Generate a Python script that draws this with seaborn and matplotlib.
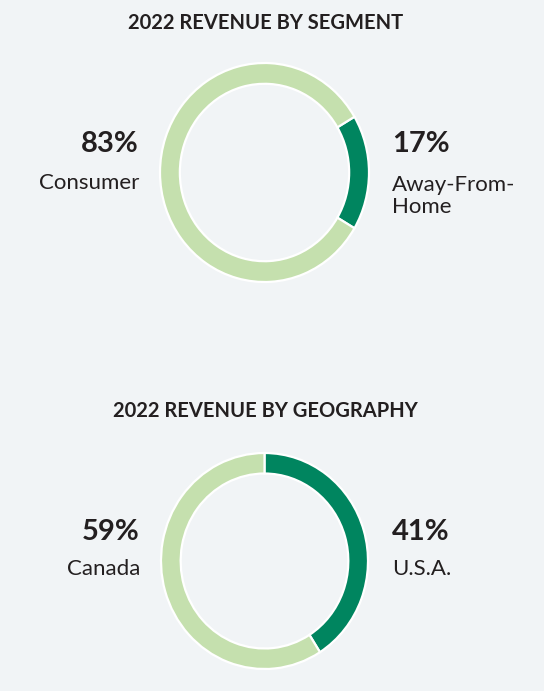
import numpy as np
import seaborn as sns
import matplotlib.pyplot as plt

# data
seg_labels = ['Away-From-\nHome', 'Consumer']
seg_values = [17, 83]
geo_labels = ['U.S.A.', 'Canada']
geo_values = [41, 59]
titles = ['2022 REVENUE BY SEGMENT', '2022 REVENUE BY GEOGRAPHY']

dark_green = '#00855f'
light_green = '#c5e0ae'
bg = '#f1f4f6'
txt = '#231f20'

sns.set_theme(style='white')
plt.rcParams['font.family'] = ['Lato', 'DejaVu Sans']

W, H = 544, 691
fig = plt.figure(figsize=(W / 100, H / 100), dpi=100, facecolor=bg)


def px(x, y):
    return x / W, 1 - y / H


def donut(rect, values, start):
    ax = fig.add_axes(rect)
    ax.pie(values, colors=[dark_green, light_green], startangle=start,
           counterclock=False, radius=1,
           wedgeprops=dict(width=0.19, edgecolor='white', linewidth=1.6))
    ax.set_xlim(-1, 1)
    ax.set_ylim(-1, 1)
    ax.set_aspect('auto')
    ax.axis('off')
    for p in ax.patches:
        p.set_clip_on(False)
    return ax


# top: small segment centred on 3 o'clock
donut([160 / W, 1 - 282 / H, 209 / W, 219 / H], seg_values, seg_values[0] / 100 * 180)
# bottom: U.S.A. starts at 12 o'clock
donut([161 / W, 1 - 669 / H, 207 / W, 216 / H], geo_values, 90)

fig.text(*px(266, 23), titles[0], ha='center', va='center',
         fontsize=14.5, fontweight='bold', color=txt)
fig.text(*px(265, 411), titles[1], ha='center', va='center',
         fontsize=14.5, fontweight='bold', color=txt)

# side labels
fig.text(*px(139, 144), f'{seg_values[1]}%', ha='right', va='center',
         fontsize=21, fontweight='bold', color=txt)
fig.text(*px(139, 183), seg_labels[1], ha='right', va='center',
         fontsize=16, color=txt)
fig.text(*px(392, 144), f'{seg_values[0]}%', ha='left', va='center',
         fontsize=21, fontweight='bold', color=txt)
fig.text(*px(392, 196), seg_labels[0], ha='left', va='center',
         fontsize=16, color=txt, linespacing=1.1)

fig.text(*px(140, 532), f'{geo_values[1]}%', ha='right', va='center',
         fontsize=21, fontweight='bold', color=txt)
fig.text(*px(140, 569), geo_labels[1], ha='right', va='center',
         fontsize=16, color=txt)
fig.text(*px(392, 532), f'{geo_values[0]}%', ha='left', va='center',
         fontsize=21, fontweight='bold', color=txt)
fig.text(*px(392, 569), geo_labels[0], ha='left', va='center',
         fontsize=16, color=txt)

fig.savefig('out.png', dpi=100, facecolor=bg)
